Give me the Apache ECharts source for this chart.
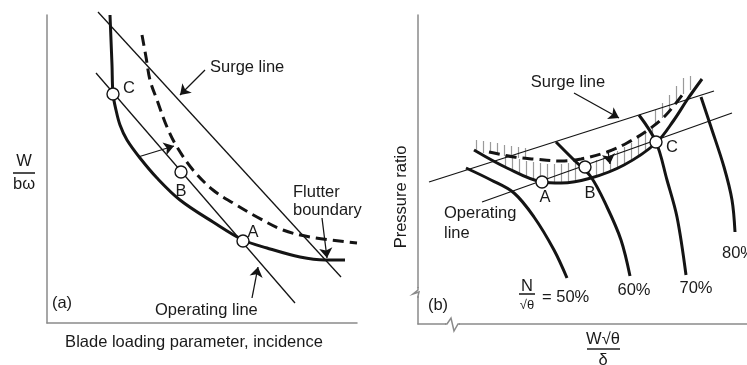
<!DOCTYPE html>
<html><head><meta charset="utf-8">
<script src="https://cdn.jsdelivr.net/npm/echarts@6/dist/echarts.min.js"></script>
<style>html,body{margin:0;padding:0;background:#fff}#c{width:747px;height:365px}</style>
</head><body><div id="c"></div>
<script>
// ---------- Panel (a): W/bω vs blade loading parameter ----------
const surgeLineA = [[51,311],[294,46]];
const operLineA = [[49,250],[248,20]];
const workCurveA = [[63,308],[64,283],[65,258],[66,229],[69,213],[73,198],[80,183],[93,165],[110,145],[133,123],[166,101],[196,83],[220,75],[253,66],[278,63],[298,63]];
const flutterA = [[95,288],[99,266],[103,243],[110,223],[120,196],[130,176],[146,153],[166,133],[186,120],[210,106],[236,93],[263,86],[310,80]];
const pointsA = [[196,82],[134,151],[66,229]];
const pointNamesA = ['A','B','C'];
const arrowsA = [
  [[91,166],[127,177]],
  [[158,253],[133,228]],
  [[275,105],[280,65]],
  [[205,25],[211,56]]
];

// ---------- Panel (b): pressure ratio vs corrected flow ----------
const surgeLineB = [[11,142],[296,233]];
const operLineB = [[64,122],[314,211]];
const stallCurveB = [[56,174],[89,156],[124,142],[143,141],[173,146],[206,159],[238,181],[256,204],[269,224],[284,245]];
const flutterB = [[71,172],[96,167],[116,165],[143,163],[163,165],[189,172],[209,181],[230,194],[247,208],[265,230]];
const speed50 = [[48,156],[73,144],[96,131],[116,107],[136,74],[149,46]];
const speed60 = [[138,182],[156,164],[173,147],[189,117],[203,84],[212,48]];
const speed70 = [[221,209],[238,182],[249,144],[259,107],[268,49]];
const speed80 = [[283,227],[293,197],[306,157],[314,124],[317,92]];
const speedLabels = ['= 50%','60%','70%','80%'];
const pointsB = [[124,142],[167,157],[238,182]];
const pointNamesB = ['A','B','C'];
const hatchB = [
  [58,172,184],[65,171,183],[72,171,182],[79,169,181],[86,168,179],[93,167,178],[100,166,177],[107,165,176],
  [87,157,169],[94,154,167],[101,151,165],[108,148,163],[115,145,162],[122,143,161],[129,142,160],[136,141,160],
  [143,141,160],[150,142,161],[157,143,161],[171,146,162],[178,148,164],[185,151,167],[192,153,169],[199,156,173],
  [206,159,177],[213,163,181],[220,168,186],[227,173,191],[234,178,196],
  [237,200,214],[244,206,221],[251,213,229],[258,221,238],[265,230,246],[272,234,248]
];
const arrowsB = [
  [[156,231],[201,206]],
  [[190,173],[192,160]]
];

const FONT = '"Liberation Sans", Arial, Helvetica, sans-serif';
const INK = '#141414';

function lineS(gi, data, o) {
  o = o || {};
  return {
    type: 'line', xAxisIndex: gi, yAxisIndex: gi, data: data,
    symbol: 'none', showSymbol: false, clip: false, silent: true,
    smooth: o.smooth || false,
    lineStyle: { color: INK, width: o.w || 1.3, type: o.type || 'solid', cap: 'butt' },
    z: o.z || 3
  };
}
function arrowS(gi, list) {
  return {
    type: 'lines', coordinateSystem: 'cartesian2d', xAxisIndex: gi, yAxisIndex: gi,
    data: list.map(c => ({ coords: c })), symbol: ['none', 'arrow'], symbolSize: 10,
    lineStyle: { color: INK, width: 1.3, opacity: 1, curveness: 0 }, silent: true, z: 4
  };
}
function ptsS(gi, data) {
  return {
    type: 'scatter', xAxisIndex: gi, yAxisIndex: gi, data: data, symbol: 'circle', symbolSize: 12,
    itemStyle: { color: '#fff', borderColor: INK, borderWidth: 1.4, opacity: 1 }, silent: true, z: 6
  };
}
function axisCfg(gi, max, show) {
  return {
    gridIndex: gi, type: 'value', min: 0, max: max,
    axisLine: { show: show, onZero: false, lineStyle: { color: '#8a8a8a', width: 1.5 } },
    axisTick: { show: false }, axisLabel: { show: false }, splitLine: { show: false }
  };
}
function txt(x, y, s, o) {
  o = o || {};
  return {
    type: 'text', x: x, y: y, rotation: o.rot || 0, z: 10,
    style: {
      text: s, fill: o.fill || '#1a1a1a', font: (o.weight || 'normal') + ' ' + (o.size || 16.5) + 'px ' + FONT,
      align: o.align || 'center', verticalAlign: 'middle', textAlign: o.align || 'center', textVerticalAlign: 'middle'
    }
  };
}
function bar(x1, y1, x2, y2, w, c) {
  return { type: 'line', z: 10, shape: { x1: x1, y1: y1, x2: x2, y2: y2 }, style: { stroke: c || '#222', lineWidth: w || 1.6 } };
}

const chart = echarts.init(document.getElementById('c'), null, { renderer: 'canvas' });
const graphic = [
  // panel (a) texts
  txt(210, 67, 'Surge line', { align: 'left' }),
  txt(293, 192, 'Flutter', { align: 'left' }),
  txt(293, 210, 'boundary', { align: 'left' }),
  txt(155, 310, 'Operating line', { align: 'left' }),
  txt(62, 303, '(a)'),
  txt(129, 88, pointNamesA[2]),
  txt(181, 191, pointNamesA[1]),
  txt(253, 232, pointNamesA[0]),
  txt(24, 161, 'W'),
  bar(13, 173, 35, 173),
  txt(24, 184, 'bω'),
  txt(194, 342, 'Blade loading parameter, incidence'),
  // panel (b) texts
  txt(568, 82, 'Surge line'),
  txt(444, 213, 'Operating', { align: 'left' }),
  txt(444, 233, 'line', { align: 'left' }),
  txt(545, 197, pointNamesB[0]),
  txt(590, 193, pointNamesB[1]),
  txt(672, 147, pointNamesB[2]),
  txt(527, 286, 'N'),
  bar(519, 294, 535, 294),
  txt(527, 305, '√θ', { size: 13 }),
  txt(542, 297, speedLabels[0], { align: 'left' }),
  txt(634, 290, speedLabels[1]),
  txt(696, 288, speedLabels[2]),
  txt(722, 253, speedLabels[3], { align: 'left' }),
  txt(438, 305, '(b)'),
  txt(401, 197, 'Pressure ratio', { rot: Math.PI / 2 }),
  txt(603, 339, 'W√θ'),
  bar(587, 349, 620, 349),
  txt(603, 360, 'δ'),
  // axis breaks
  { type: 'rect', z: 9, shape: { x: 414, y: 288, width: 8, height: 8 }, style: { fill: '#fff' } },
  { type: 'polyline', z: 10, shape: { points: [[418, 287], [418, 290], [413, 294], [419, 292], [418, 296], [418, 298]] }, style: { stroke: '#8a8a8a', lineWidth: 1.5, fill: null } },
  { type: 'rect', z: 9, shape: { x: 446, y: 322, width: 13, height: 4 }, style: { fill: '#fff' } },
  { type: 'polyline', z: 10, shape: { points: [[445, 324], [447, 324], [451, 318], [454, 331], [458, 324], [460, 324]] }, style: { stroke: '#8a8a8a', lineWidth: 1.5, fill: null } }
];

const series = [
  // panel (a)
  lineS(0, surgeLineA),
  lineS(0, operLineA),
  lineS(0, workCurveA, { w: 3, smooth: 0.35 }),
  lineS(0, flutterA, { w: 3, smooth: 0.35, type: [11, 6] }),
  arrowS(0, arrowsA),
  ptsS(0, pointsA),
  // panel (b)
  {
    type: 'lines', coordinateSystem: 'cartesian2d', xAxisIndex: 1, yAxisIndex: 1,
    data: hatchB.map(h => ({ coords: [[h[0], h[1]], [h[0], h[2]]] })), symbol: 'none',
    lineStyle: { color: '#9a9a9a', width: 1.2, opacity: 1 }, silent: true, z: 1
  },
  lineS(1, surgeLineB),
  lineS(1, operLineB),
  lineS(1, stallCurveB, { w: 3, smooth: 0.35 }),
  lineS(1, flutterB, { w: 3, smooth: 0.35, type: [11, 6] }),
  lineS(1, speed50, { w: 3, smooth: 0.35 }),
  lineS(1, speed60, { w: 3, smooth: 0.35 }),
  lineS(1, speed70, { w: 3, smooth: 0.35 }),
  lineS(1, speed80, { w: 3, smooth: 0.35 }),
  arrowS(1, arrowsB),
  ptsS(1, pointsB)
];

chart.setOption({
  animation: false,
  backgroundColor: '#fff',
  grid: [
    { left: 47, top: 15, width: 310, height: 308 },
    { left: 418, top: 15, width: 329, height: 309 }
  ],
  xAxis: [axisCfg(0, 310, true), axisCfg(1, 329, true)],
  yAxis: [axisCfg(0, 308, true), axisCfg(1, 309, true)],
  series: series,
  graphic: graphic
});
</script>
</body></html>
